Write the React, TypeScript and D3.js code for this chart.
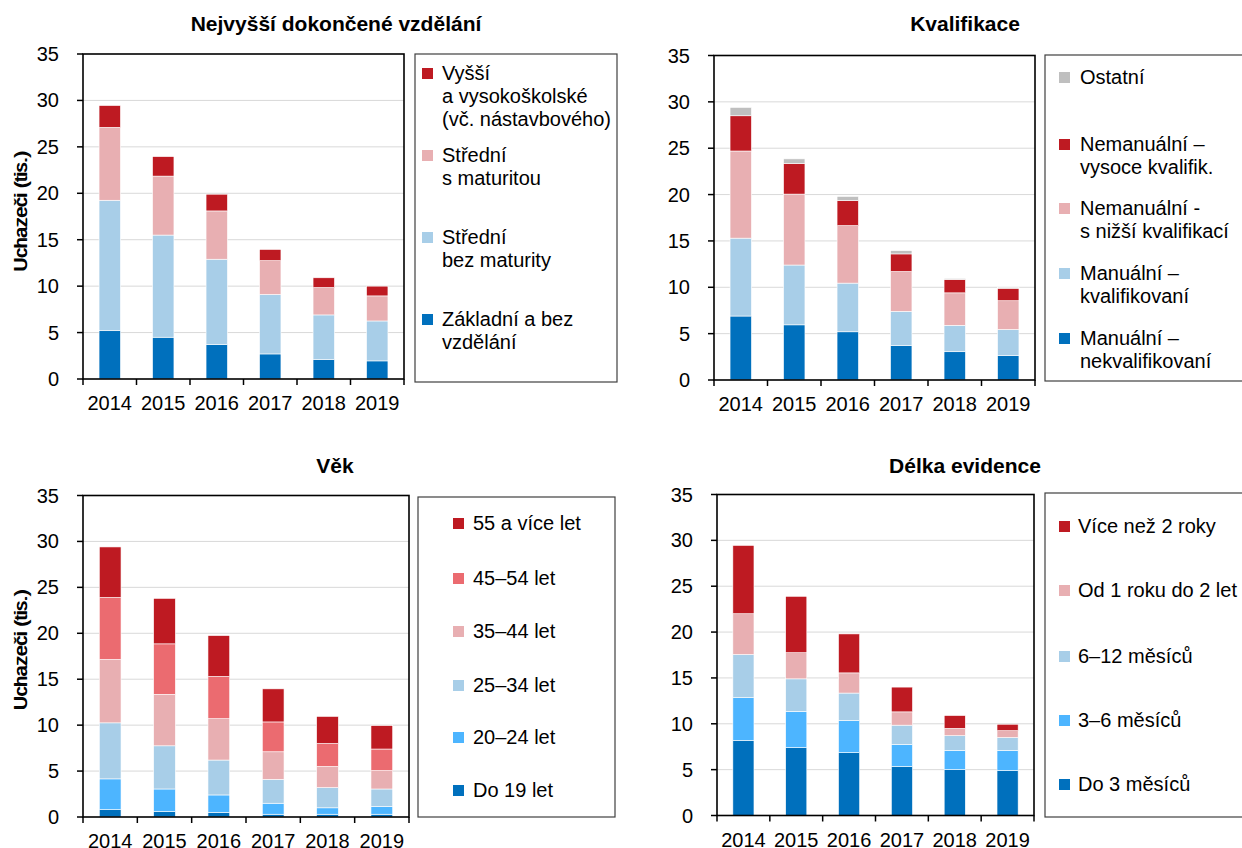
import React from "react";
import * as d3 from "d3";

// ---------- data ----------
const years = ["2014", "2015", "2016", "2017", "2018", "2019"];
const yTicks = [0, 5, 10, 15, 20, 25, 30, 35];

// Nejvyšší dokončené vzdělání (bottom -> top)
const eduZakladni = [5.2, 4.5, 3.7, 2.7, 2.1, 1.95];
const eduBezMaturity = [14.05, 11.0, 9.2, 6.4, 4.8, 4.3];
const eduSMaturitou = [7.85, 6.35, 5.2, 3.65, 2.95, 2.7];
const eduVyssi = [2.35, 2.1, 1.8, 1.2, 1.05, 1.05];

// Kvalifikace
const kvNekval = [6.9, 5.95, 5.2, 3.7, 3.05, 2.65];
const kvKval = [8.4, 6.45, 5.25, 3.7, 2.85, 2.8];
const kvNizsi = [9.4, 7.65, 6.2, 4.3, 3.5, 3.1];
const kvVysoce = [3.8, 3.3, 2.7, 1.9, 1.45, 1.35];
const kvOstatni = [0.9, 0.5, 0.45, 0.35, 0.1, 0.1];

// Věk
const ageDo19 = [0.8, 0.6, 0.5, 0.3, 0.3, 0.3];
const age20_24 = [3.35, 2.45, 1.9, 1.2, 0.7, 0.85];
const age25_34 = [6.1, 4.7, 3.8, 2.6, 2.2, 1.9];
const age35_44 = [6.9, 5.6, 4.5, 3.0, 2.3, 2.0];
const age45_54 = [6.75, 5.5, 4.6, 3.25, 2.5, 2.35];
const age55 = [5.5, 4.95, 4.45, 3.6, 2.95, 2.55];

// Délka evidence
const durDo3 = [8.2, 7.4, 6.85, 5.35, 5.0, 4.9];
const dur3_6 = [4.65, 3.95, 3.5, 2.4, 2.1, 2.2];
const dur6_12 = [4.7, 3.55, 3.0, 2.1, 1.6, 1.4];
const dur1_2 = [4.45, 2.85, 2.2, 1.45, 0.8, 0.75];
const durVice2 = [7.45, 6.15, 4.25, 2.7, 1.4, 0.7];

// ---------- colours ----------
const C = {
  blue: "#0070BD",
  bright: "#4DB5FF",
  light: "#A8CEE8",
  pink: "#E8AFB2",
  salmon: "#EB6B70",
  red: "#BE1A22",
  gray: "#BFBFBF",
};

const FONT = "'Liberation Sans', Arial, sans-serif";

type Series = { key: string; values: number[]; color: string; label: string[] };
type PanelCfg = {
  title: string;
  titleX: number;
  titleY: number;
  plot: { x: number; y: number; w: number; h: number };
  legend: { x: number; y: number; w: number; h: number; swatchX: number; textX: number; baselines: number[] };
  series: Series[]; // bottom -> top
};

const panels: PanelCfg[] = [
  {
    title: "Nejvyšší dokončené vzdělání",
    titleX: 336,
    titleY: 31,
    plot: { x: 83, y: 54, w: 321, h: 325 },
    legend: { x: 415, y: 54, w: 202, h: 328, swatchX: 422, textX: 442, baselines: [326, 244, 162, 80] },
    series: [
      { key: "zakl", values: eduZakladni, color: C.blue, label: ["Základní a bez", "vzdělání"] },
      { key: "bez", values: eduBezMaturity, color: C.light, label: ["Střední", "bez maturity"] },
      { key: "smat", values: eduSMaturitou, color: C.pink, label: ["Střední", "s maturitou"] },
      { key: "vys", values: eduVyssi, color: C.red, label: ["Vyšší", "a vysokoškolské", "(vč. nástavbového)"] },
    ],
  },
  {
    title: "Kvalifikace",
    titleX: 965,
    titleY: 31,
    plot: { x: 714, y: 55.5, w: 321, h: 324.5 },
    legend: { x: 1045, y: 55, w: 220, h: 326, swatchX: 1059, textX: 1080, baselines: [345, 280, 215, 151, 84] },
    series: [
      { key: "nek", values: kvNekval, color: C.blue, label: ["Manuální –", "nekvalifikovaní"] },
      { key: "kv", values: kvKval, color: C.light, label: ["Manuální –", "kvalifikovaní"] },
      { key: "niz", values: kvNizsi, color: C.pink, label: ["Nemanuální -", "s nižší kvalifikací"] },
      { key: "vys", values: kvVysoce, color: C.red, label: ["Nemanuální –", "vysoce kvalifik."] },
      { key: "ost", values: kvOstatni, color: C.gray, label: ["Ostatní"] },
    ],
  },
  {
    title: "Věk",
    titleX: 335,
    titleY: 473,
    plot: { x: 83, y: 495.5, w: 326, h: 321.5 },
    legend: { x: 418, y: 497, w: 197, h: 320, swatchX: 453, textX: 473, baselines: [797, 744, 692, 638, 585, 530] },
    series: [
      { key: "a19", values: ageDo19, color: C.blue, label: ["Do 19 let"] },
      { key: "a24", values: age20_24, color: C.bright, label: ["20–24 let"] },
      { key: "a34", values: age25_34, color: C.light, label: ["25–34 let"] },
      { key: "a44", values: age35_44, color: C.pink, label: ["35–44 let"] },
      { key: "a54", values: age45_54, color: C.salmon, label: ["45–54 let"] },
      { key: "a55", values: age55, color: C.red, label: ["55 a více let"] },
    ],
  },
  {
    title: "Délka evidence",
    titleX: 965,
    titleY: 473,
    plot: { x: 717, y: 494.5, w: 317, h: 321 },
    legend: { x: 1045, y: 493, w: 220, h: 324, swatchX: 1059, textX: 1078, baselines: [791, 727, 663, 597, 533] },
    series: [
      { key: "d3", values: durDo3, color: C.blue, label: ["Do 3 měsíců"] },
      { key: "d6", values: dur3_6, color: C.bright, label: ["3–6 měsíců"] },
      { key: "d12", values: dur6_12, color: C.light, label: ["6–12 měsíců"] },
      { key: "d24", values: dur1_2, color: C.pink, label: ["Od 1 roku do 2 let"] },
      { key: "dv", values: durVice2, color: C.red, label: ["Více než 2 roky"] },
    ],
  },
];

function Panel({ cfg }: { cfg: PanelCfg }) {
  const { plot, legend, series } = cfg;
  const x = d3.scaleBand<string>().domain(years).range([plot.x, plot.x + plot.w]).padding(0);
  const y = d3.scaleLinear().domain([0, 35]).range([plot.y + plot.h, plot.y]);
  const rows = years.map((yr, i) => {
    const r: any = { year: yr };
    series.forEach((s) => (r[s.key] = s.values[i]));
    return r;
  });
  const stacked = d3.stack<any>().keys(series.map((s) => s.key))(rows);
  const bw = x.bandwidth() * 0.4;
  const bottom = plot.y + plot.h;
  const boundaries = years.map((yr) => x(yr)!).concat([plot.x + plot.w]);
  const lh = 23;

  return (
    <g fontFamily={FONT} fontWeight={400}>
      <text x={cfg.titleX} y={cfg.titleY} textAnchor="middle" fontWeight={700} fontSize={21} fill="#000">
        {cfg.title}
      </text>
      {/* gridlines */}
      {yTicks.slice(1, -1).map((t) => (
        <line key={t} x1={plot.x} x2={plot.x + plot.w} y1={y(t)} y2={y(t)} stroke="#D9D9D9" strokeWidth={1} />
      ))}
      {/* bars */}
      {stacked.map((layer, li) => (
        <g key={layer.key} fill={series[li].color}>
          {layer.map((d, i) => (
            <rect
              key={i}
              x={x(years[i])! + (x.bandwidth() - bw) / 2}
              y={y(d[1])}
              width={bw}
              height={Math.max(0, y(d[0]) - y(d[1]))}
              stroke="#fff"
              strokeWidth={0.6}
            />
          ))}
        </g>
      ))}
      {/* frame */}
      <rect x={plot.x} y={plot.y} width={plot.w} height={plot.h} fill="none" stroke="#000" strokeWidth={1.6} />
      {/* y ticks */}
      {yTicks.map((t) => (
        <g key={t}>
          <line x1={plot.x - 6} x2={plot.x} y1={y(t)} y2={y(t)} stroke="#000" strokeWidth={1.5} />
          <text x={plot.x - 24} y={y(t)} dy="0.35em" textAnchor="end" fontSize={20} fill="#000">
            {t}
          </text>
        </g>
      ))}
      {/* x ticks */}
      {boundaries.map((bx, i) => (
        <line key={i} x1={bx} x2={bx} y1={bottom} y2={bottom + 6} stroke="#000" strokeWidth={1.5} />
      ))}
      {years.map((yr) => (
        <text key={yr} x={x(yr)! + x.bandwidth() / 2} y={bottom + 31} textAnchor="middle" fontSize={20} fill="#000">
          {yr}
        </text>
      ))}
      {/* y title */}
      <text
        transform={`translate(20,${plot.y + plot.h / 2 - 6}) rotate(-90)`}
        dy="0.35em"
        textAnchor="middle"
        fontSize={19}
        fontWeight={400}
        fill="#000"
      >
        Uchazeči (tis.)
      </text>
      {/* legend */}
      <rect x={legend.x} y={legend.y} width={legend.w} height={legend.h} fill="#fff" stroke="#404040" strokeWidth={1.2} />
      {series.map((s, i) => (
        <g key={s.key}>
          <rect x={legend.swatchX} y={legend.baselines[i] - 12} width={11} height={11} fill={s.color} />
          <text fontSize={20} fill="#000">
            {s.label.map((ln, j) => (
              <tspan key={j} x={legend.textX} y={legend.baselines[i] + j * lh}>
                {ln}
              </tspan>
            ))}
          </text>
        </g>
      ))}
    </g>
  );
}

export default function App() {
  return (
    <svg
      width={1242}
      height={848}
      viewBox="0 0 1242 848"
      style={{ position: "absolute", left: 0, top: 0, background: "#fff" }}
    >
      <rect width={1242} height={848} fill="#fff" />
      {panels.map((p, i) => (
        <Panel key={i} cfg={p} />
      ))}
    </svg>
  );
}
